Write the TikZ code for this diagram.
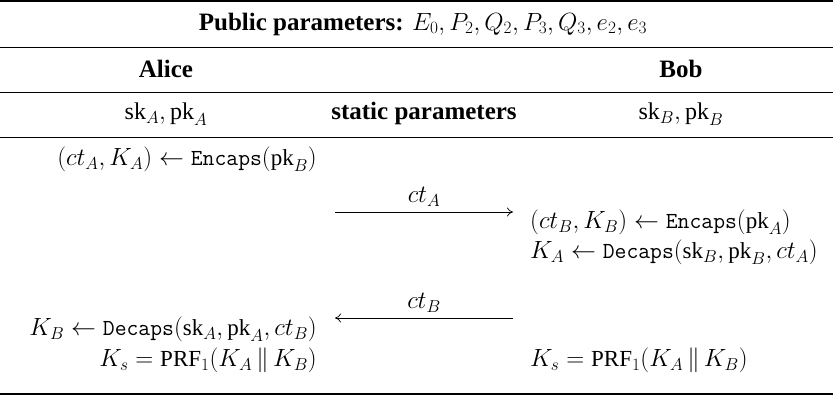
\documentclass[tikz,border=0pt]{standalone}
\usepackage{fontspec}
\setmainfont{Liberation Serif}
\usetikzlibrary{positioning, arrows.meta}
\newcommand{\kemfn}[1]{\texttt{#1}}

\begin{document}
\begin{tikzpicture}[x=1pt, y=-1pt, font=\fontsize{23}{25}\selectfont,
    thinrule/.style={line width=0.9pt},
    heavyrule/.style={line width=2pt},
    msg/.style={-{To[length=6pt, width=9pt]}, line width=0.7pt},
    msglbl/.style={above=4pt, inner sep=1pt},
    lcell/.style={anchor=mid east, inner sep=0pt},
    rcell/.style={anchor=mid west, inner sep=0pt},
    hcell/.style={inner sep=0pt, font=\fontsize{25}{27}\selectfont},
    kcell/.style={inner sep=0pt, font=\fontsize{24}{26}\selectfont}]
  \useasboundingbox (0,0) rectangle (833,396);

  % rules of the table
  \draw[heavyrule] (0,1) -- (833,1);
  \draw[thinrule] (0,47) -- (833,47);
  \draw[thinrule] (0,92) -- (833,92);
  \draw[thinrule] (0,137) -- (833,137);
  \draw[heavyrule] (0,394) -- (833,394);

  % header rows
  \node[hcell] (pub) at (423,24)
    {\textbf{Public parameters:} $E_0, P_2, Q_2, P_3, Q_3, e_2, e_3$};
  \node[hcell] (alice) at (166,69) {\textbf{Alice}};
  \node[hcell] (bob) at (681,69) {\textbf{Bob}};
  \node[kcell] (skA) at (166,114) {$\mathrm{sk}_A, \mathrm{pk}_A$};
  \node[hcell] (static) at (424,113) {\textbf{static parameters}};
  \node[kcell] (skB) at (681,114) {$\mathrm{sk}_B, \mathrm{pk}_B$};

  % Alice side
  \node[lcell] (encA) at (317,163)
    {$(ct_A, K_A) \leftarrow \kemfn{Encaps}(\mathrm{pk}_B)$};
  \node[lcell] (decA) at (317,333)
    {$K_B \leftarrow \kemfn{Decaps}(\mathrm{sk}_A, \mathrm{pk}_A, ct_B)$};
  \node[lcell] (ksA) at (317,364)
    {$K_s = \mathrm{PRF}_1(K_A \,\|\, K_B)$};

  % Bob side
  \node[rcell] (encB) at (530,226)
    {$(ct_B, K_B) \leftarrow \kemfn{Encaps}(\mathrm{pk}_A)$};
  \node[rcell] (decB) at (530,256)
    {$K_A \leftarrow \kemfn{Decaps}(\mathrm{sk}_B, \mathrm{pk}_B, ct_A)$};
  \node[rcell] (ksB) at (530,364)
    {$K_s = \mathrm{PRF}_1(K_A \,\|\, K_B)$};

  % messages
  \coordinate (msgAl) at (335,212);
  \coordinate (msgAr) at (513,212);
  \coordinate (msgBl) at (335,318);
  \coordinate (msgBr) at (513,318);
  \draw[msg] (msgAl) -- node[msglbl]{$ct_A$} (msgAr);
  \draw[msg] (msgBr) -- node[msglbl]{$ct_B$} (msgBl);
\end{tikzpicture}
\end{document}
